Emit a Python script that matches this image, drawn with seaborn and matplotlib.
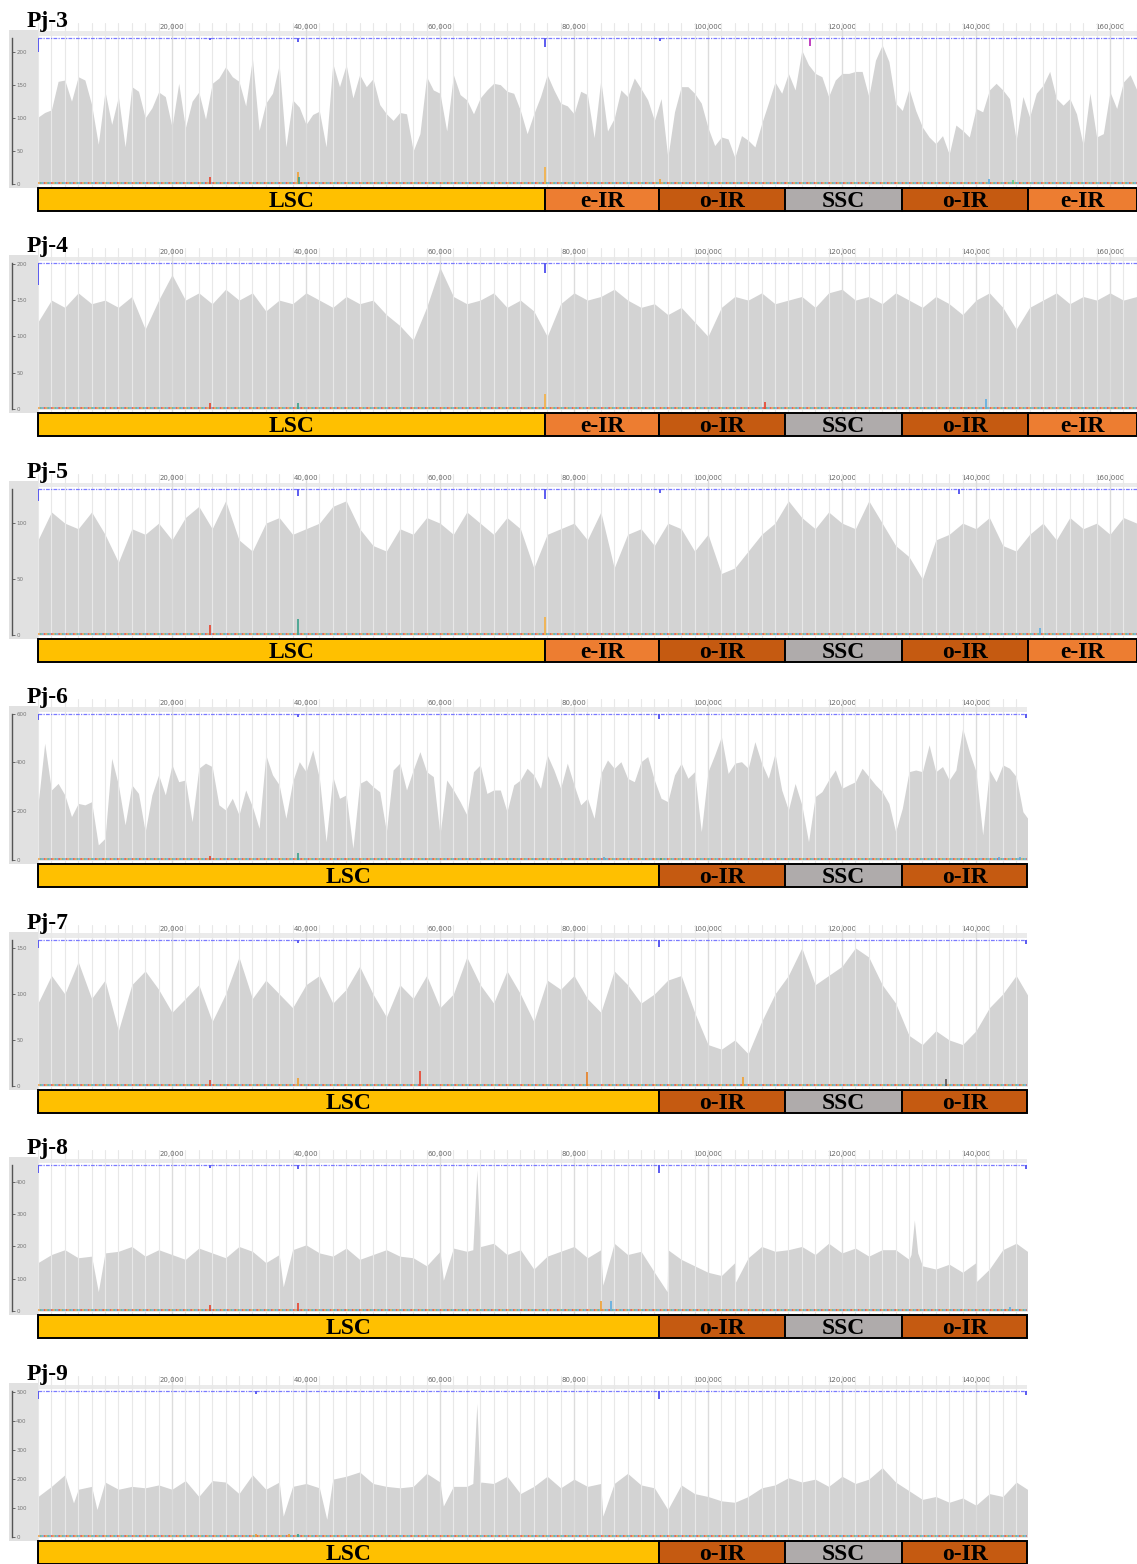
import numpy as np
import matplotlib
matplotlib.use("Agg")
import matplotlib.pyplot as plt
import seaborn as sns
from matplotlib.ticker import MultipleLocator
from matplotlib.patches import Rectangle

sns.set_theme(style="white")
plt.rcParams["font.family"] = ["DejaVu Sans"]

# ------------------------------------------------------------------ data
panel_names = ["Pj-3", "Pj-4", "Pj-5", "Pj-6", "Pj-7", "Pj-8", "Pj-9"]
genome_len_bp = [164000, 164000, 164000, 147600, 147600, 147600, 147600]
y_max = [228, 208, 135, 619, 164, 468, 522]
y_ticks = [[0, 50, 100, 150, 200], [0, 50, 100, 150, 200], [0, 50, 100],
           [0, 200, 400, 600], [0, 50, 100, 150], [0, 100, 200, 300, 400],
           [0, 100, 200, 300, 400, 500]]

# coverage sampled along the genome (step in bp)
cov_step = [1000, 2000, 2000, 1000, 2000, 2000, 2000]

cov_pj3 = [101, 108, 112, 155, 157, 125, 162, 157, 120, 60,
           140, 90, 132, 56, 147, 140, 100, 115, 139, 132,
           86, 152, 85, 125, 139, 98, 152, 160, 177, 162,
           155, 118, 190, 81, 122, 137, 180, 56, 127, 116,
           90, 105, 110, 56, 182, 147, 180, 130, 165, 147,
           159, 120, 106, 96, 108, 106, 50, 76, 162, 142,
           137, 80, 165, 135, 127, 106, 130, 142, 152, 150,
           140, 137, 111, 76, 106, 132, 165, 142, 122, 118,
           106, 140, 135, 70, 157, 80, 99, 142, 132, 160,
           144, 127, 96, 129, 40, 109, 147, 147, 137, 122,
           85, 58, 71, 68, 40, 73, 66, 56, 91, 122,
           154, 137, 167, 142, 202, 180, 167, 162, 132, 157,
           167, 167, 170, 170, 132, 187, 210, 185, 122, 111,
           144, 111, 86, 71, 61, 73, 45, 89, 81, 71,
           114, 109, 142, 152, 142, 129, 66, 132, 101, 137,
           149, 170, 129, 119, 129, 106, 58, 137, 71, 76,
           139, 114, 154, 165, 142]

cov_pj4 = [120, 150, 140, 160, 145, 150, 140, 155, 110, 150,
           185, 150, 160, 145, 165, 150, 160, 135, 150, 145,
           160, 150, 140, 155, 145, 150, 130, 115, 95, 140,
           195, 155, 145, 150, 160, 140, 150, 135, 100, 145,
           160, 150, 155, 165, 150, 140, 145, 130, 140, 120,
           100, 140, 155, 150, 160, 145, 150, 155, 140, 160,
           165, 150, 155, 145, 160, 150, 140, 155, 145, 130,
           150, 160, 140, 110, 140, 150, 160, 145, 155, 150,
           160, 150, 155]

cov_pj5 = [85, 110, 100, 95, 110, 90, 65, 95, 90, 100,
           85, 105, 115, 95, 120, 85, 75, 100, 105, 90,
           95, 100, 115, 120, 95, 80, 75, 95, 90, 105,
           100, 90, 110, 100, 90, 105, 95, 60, 90, 95,
           100, 85, 110, 60, 90, 95, 80, 100, 95, 75,
           90, 55, 60, 75, 90, 100, 120, 105, 95, 110,
           100, 95, 120, 100, 80, 70, 50, 85, 90, 100,
           95, 105, 80, 75, 90, 100, 85, 105, 95, 100,
           90, 105, 100]

cov_pj6 = [226, 479, 287, 314, 267, 178, 232, 226, 239, 62,
           89, 417, 308, 144, 308, 273, 116, 267, 349, 267,
           390, 321, 328, 157, 376, 397, 383, 226, 205, 253,
           185, 287, 219, 130, 431, 349, 308, 171, 321, 403,
           362, 451, 335, 75, 342, 253, 267, 48, 314, 328,
           301, 280, 116, 369, 397, 287, 369, 444, 362, 342,
           103, 328, 287, 239, 185, 362, 390, 273, 287, 287,
           198, 308, 328, 376, 349, 294, 431, 369, 294, 397,
           308, 226, 253, 171, 355, 410, 376, 403, 335, 321,
           403, 424, 328, 253, 239, 349, 397, 335, 362, 116,
           362, 431, 506, 355, 397, 403, 376, 485, 397, 335,
           437, 287, 205, 314, 226, 75, 260, 280, 328, 369,
           294, 308, 321, 376, 342, 308, 280, 232, 116, 212,
           362, 369, 362, 472, 362, 383, 328, 369, 540, 444,
           362, 103, 369, 321, 390, 376, 342, 198, 160]

cov_pj7 = [90, 120, 100, 135, 95, 115, 60, 110, 125, 105,
           80, 95, 110, 70, 100, 140, 95, 115, 100, 85,
           110, 120, 90, 105, 130, 100, 75, 110, 95, 120,
           85, 100, 140, 110, 90, 125, 100, 70, 115, 105,
           120, 95, 80, 125, 110, 90, 100, 115, 120, 80,
           45, 40, 50, 35, 70, 100, 120, 150, 110, 120,
           130, 150, 140, 110, 90, 55, 45, 60, 50, 45,
           60, 85, 100, 120, 95]

cov_pj8 = [150, 175, 190, 165, 170, 180, 185, 200, 170, 190,
           175, 160, 195, 180, 165, 200, 185, 150, 175, 190,
           205, 180, 170, 195, 160, 175, 190, 170, 165, 140,
           185, 195, 185, 200, 210, 175, 190, 130, 170, 185,
           200, 165, 190, 210, 175, 185, 120, 190, 160, 140,
           120, 110, 150, 165, 200, 185, 190, 200, 175, 210,
           180, 195, 170, 190, 190, 160, 140, 130, 145, 120,
           150, 130, 190, 210, 180]

cov_pj9 = [140, 175, 215, 165, 175, 190, 165, 175, 170, 180,
           165, 195, 140, 195, 190, 150, 215, 165, 190, 175,
           185, 170, 200, 210, 225, 185, 175, 170, 175, 220,
           190, 175, 175, 180, 185, 210, 150, 175, 210, 170,
           200, 175, 185, 185, 220, 180, 170, 95, 180, 150,
           140, 125, 120, 140, 170, 180, 205, 190, 200, 175,
           210, 185, 200, 240, 190, 160, 130, 140, 120, 135,
           110, 150, 140, 190, 160]

coverage = [cov_pj3, cov_pj4, cov_pj5, cov_pj6, cov_pj7, cov_pj8, cov_pj9]

# extra narrow peaks / dips (kb, coverage)
extra_kb = [[], [], [], [], [],
            [9.0, 36.6, 60.5, 64.9, 65.5, 66.1, 84.3, 93.9, 104.0,
             130.3, 130.8, 131.3, 140.0],
            [5.3, 8.8, 36.6, 43.1, 60.5, 64.9, 65.5, 66.1, 84.3]]
extra_cov = [[], [], [], [], [],
             [60, 75, 95, 190, 437, 200, 80, 60, 85, 175, 282, 180, 90],
             [118, 95, 72, 61, 107, 185, 462, 190, 72]]

# blue identity track: position (kb) and drop below 100 (%)
blue_level = 100
blue_dip_kb = [[0, 25.7, 38.8, 75.7, 92.8, 115.2], [0, 75.7],
               [0, 38.8, 75.7, 92.8, 137.5], [0, 38.8, 92.7, 147.5],
               [0, 38.8, 92.7, 147.5], [0, 25.7, 38.8, 92.7, 147.5],
               [0, 32.5, 92.7, 147.5]]
blue_dip_drop = [[14, 2, 4, 9, 3, 8], [22, 10], [12, 7, 10, 4, 5],
                 [6, 3, 5, 4], [8, 3, 7, 4], [8, 3, 4, 8, 4], [8, 3, 8, 4]]
blue_dip_color = [["#5b5bf0", "#5b5bf0", "#5b5bf0", "#5b5bf0", "#5b5bf0", "#c040c0"],
                  ["#5b5bf0"] * 2, ["#5b5bf0"] * 5, ["#5b5bf0"] * 4,
                  ["#5b5bf0"] * 4, ["#5b5bf0"] * 5, ["#5b5bf0"] * 4]

# variant spikes near the baseline (kb, height in coverage units, colour)
snp_kb = [[25.7, 38.8, 39.0, 75.7, 92.8, 142.0, 145.5],
          [25.7, 38.8, 75.7, 108.5, 141.5],
          [25.7, 38.8, 75.7, 149.5],
          [25.7, 38.8, 84.5, 93.0, 143.5, 146.5],
          [25.7, 38.8, 57.0, 82.0, 105.2, 135.5],
          [25.7, 38.8, 84.0, 85.5, 145.0],
          [32.5, 37.5, 38.8]]
snp_h = [[10, 18, 10, 26, 8, 8, 6],
         [8, 8, 20, 10, 14],
         [9, 14, 16, 6],
         [16, 28, 12, 10, 14, 14],
         [7, 9, 16, 15, 10, 8],
         [18, 25, 30, 30, 12],
         [12, 10, 10]]
snp_color = [["#e8412c", "#f0a030", "#3aa08a", "#f5b041", "#f0a030", "#5dade2", "#58d68d"],
             ["#e8412c", "#3aa08a", "#f5b041", "#e8412c", "#5dade2"],
             ["#e8412c", "#3aa08a", "#f5b041", "#5dade2"],
             ["#e8412c", "#3aa08a", "#5dade2", "#3aa08a", "#5dade2", "#5dade2"],
             ["#e8412c", "#f0a030", "#e8412c", "#e67e22", "#f0a030", "#555555"],
             ["#e8412c", "#e8412c", "#f0a030", "#5dade2", "#5dade2"],
             ["#f0a030", "#f0a030", "#3aa08a"]]

# genome regions (kb)
regions_A = ["LSC", "e-IR", "o-IR", "SSC", "o-IR", "e-IR"]
regions_A_start = [0, 75.7, 92.7, 111.5, 129.0, 147.8]
regions_A_end = [75.7, 92.7, 111.5, 129.0, 147.8, 164.0]
regions_B = ["LSC", "o-IR", "SSC", "o-IR"]
regions_B_start = [0, 92.7, 111.5, 129.0]
regions_B_end = [92.7, 111.5, 129.0, 147.6]
region_color = {"LSC": "#FFC000", "e-IR": "#ED7D31", "o-IR": "#C55A11", "SSC": "#AFABAB"}

# ------------------------------------------------------------------ layout
W, H = 1137, 1564
fig = plt.figure(figsize=(W / 100, H / 100), dpi=100)
panel_top = [33, 258, 484, 709, 935, 1160, 1386]
FILL = "#d3d3d3"


def add_ax(x0, y0, x1, y1):
    return fig.add_axes([x0 / W, 1 - y1 / H, (x1 - x0) / W, (y1 - y0) / H])


for i, name in enumerate(panel_names):
    P = panel_top[i]
    xmax = genome_len_bp[i]
    x_end = 38 + xmax / 20000 * 134
    ym = y_max[i]
    u = ym / 151.0  # one pixel in data units

    # --- coverage axes
    ax = add_ax(38, P - 10, x_end, P + 154)
    ax.set_xlim(0, xmax)
    ax.set_ylim(-3 * u, ym + 10 * u)
    for s in ax.spines.values():
        s.set_visible(False)

    xs = np.arange(len(coverage[i])) * cov_step[i]
    ys = np.array(coverage[i], dtype=float)
    if extra_kb[i]:
        xs = np.concatenate([xs, np.array(extra_kb[i]) * 1000])
        ys = np.concatenate([ys, np.array(extra_cov[i], dtype=float)])
        order = np.argsort(xs, kind="stable")
        xs, ys = xs[order], ys[order]
    ax.fill_between(xs, ys, 0, color=FILL, lw=0, zorder=1)

    # top band
    ax.add_patch(Rectangle((0, 1 - 13 / 164), 1, 4.5 / 164, transform=ax.transAxes,
                           color="#ebebeb", zorder=0.5, lw=0))

    # ticks / grid
    ax.set_xticks(np.arange(20000, xmax, 20000))
    ax.set_xticklabels([f"{v:,}" for v in range(20000, xmax, 20000)])
    ax.xaxis.set_minor_locator(MultipleLocator(2000))
    ax.tick_params(axis="x", which="both", bottom=False, labelbottom=False,
                   top=True, labeltop=True, length=0, pad=-5.0,
                   labelsize=5.0, labelcolor="#666666")
    ax.set_yticks([])
    ax.set_axisbelow(False)
    ax.grid(True, axis="x", which="minor", color="#e8e8e8", lw=0.8)
    ax.grid(True, axis="x", which="major", color="#dcdcdc", lw=1.0)
    ax.grid(False, axis="y")

    # variant baseline and spikes
    base = 1.2 * u
    for c, off in zip(["#f39c3c", "#e74c3c", "#5dade2", "#58b08d"], [0, 1.2, 2.4, 3.6]):
        ax.plot([0, xmax], [base, base], color=c, lw=1.1, ls=(off, (1.2, 3.6)), zorder=3)
    ax.vlines(np.array(snp_kb[i]) * 1000, 0, snp_h[i], colors=snp_color[i], lw=1.2, zorder=3)

    # blue identity track on a twin scale (1 unit = 1 px)
    ax2 = ax.twinx()
    ax2.set_ylim(blue_level - 149, blue_level + 15)
    ax2.set_axis_off()
    sns.lineplot(x=[0, xmax], y=[blue_level, blue_level], ax=ax2, color="#7a7aff",
                 lw=0.9, linestyle=(0, (3, 1, 1, 1)), zorder=4)
    ax2.vlines(np.array(blue_dip_kb[i]) * 1000,
               blue_level - np.array(blue_dip_drop[i]), blue_level,
               colors=blue_dip_color[i], lw=1.4, zorder=4)
    ax2.set_xlim(0, xmax)

    # --- left strip with the y scale
    axl = add_ax(9, P - 10, 38, P + 154)
    axl.set_ylim(ax.get_ylim())
    axl.set_xlim(0, 1)
    axl.patch.set_alpha(0)
    axl.add_patch(Rectangle((0, -1 / 164), 1, 158 / 164, transform=axl.transAxes,
                            color="#e1e1e1", lw=0, clip_on=False, zorder=0))
    for k, s in axl.spines.items():
        s.set_visible(k == "right")
    axl.spines["right"].set_position(("axes", 3 / 29))
    axl.spines["right"].set_bounds(0, ym - 5 * u)
    axl.spines["right"].set_color("#555555")
    axl.spines["right"].set_linewidth(1.0)
    axl.yaxis.set_ticks_position("right")
    axl.set_yticks(y_ticks[i])
    axl.tick_params(axis="y", direction="out", length=2, width=0.6, color="#555555",
                    labelsize=4, labelcolor="#777777", pad=1)
    axl.set_xticks([])

    # --- region bar
    axr = add_ax(38, P + 155, x_end, P + 178)
    axr.set_xlim(0, xmax)
    axr.set_ylim(-0.5, 0.5)
    axr.set_axis_off()
    if xmax > 150000:
        names, st, en = regions_A, regions_A_start, regions_A_end
    else:
        names, st, en = regions_B, regions_B_start, regions_B_end
    st = np.array(st) * 1000
    en = np.array(en) * 1000
    bars = axr.barh(0, en - st, left=st, height=1,
                    color=[region_color[n] for n in names],
                    edgecolor="black", lw=1.4)
    for b in bars:
        b.set_clip_on(False)
    for n, a, b in zip(names, st, en):
        axr.text((a + b) / 2, -0.32, n, ha="center", va="baseline", fontsize=17,
                 fontweight="bold", family="Liberation Serif", color="black")

    # --- panel title
    fig.text(27 / W, 1 - (P - 6) / H, name, ha="left", va="baseline", fontsize=17,
             fontweight="bold", family="Liberation Serif", color="black")

fig.savefig("out.png", dpi=100)
